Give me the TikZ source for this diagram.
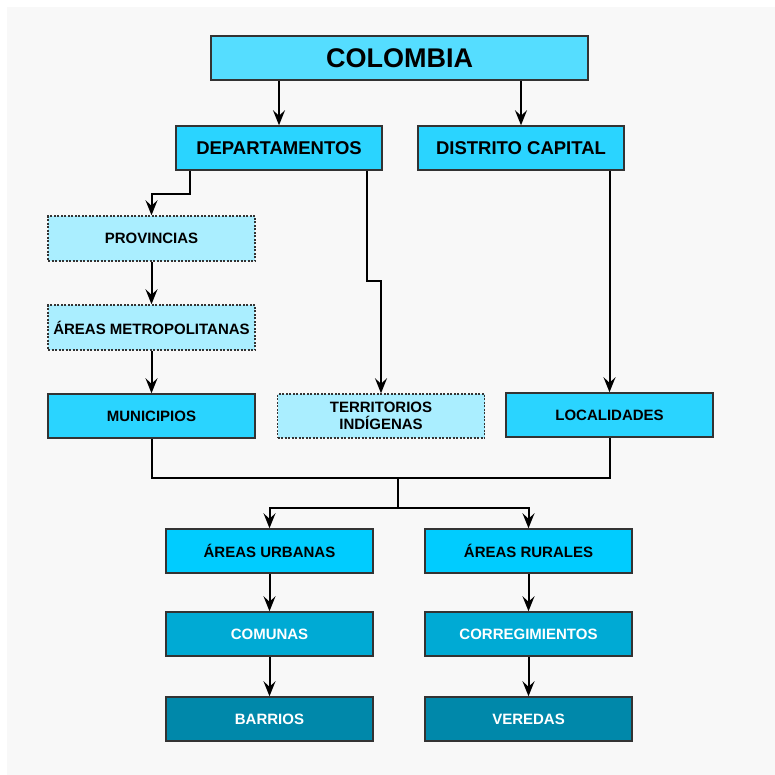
\documentclass[tikz,border=0pt]{standalone}
\usepackage{fontspec}
\setmainfont{Liberation Sans}
\usepackage{xcolor}
\usepackage{tikz}
\usetikzlibrary{arrows.meta,positioning}

\definecolor{cieloA}{HTML}{55DDFF}
\definecolor{cieloB}{HTML}{2AD4FF}
\definecolor{cieloC}{HTML}{00CCFF}
\definecolor{pastel}{HTML}{AAEEFF}
\definecolor{medio}{HTML}{00AAD4}
\definecolor{oscuro}{HTML}{0088AA}
\definecolor{fondo}{HTML}{F8F8F8}
\definecolor{borde}{HTML}{333333}

\begin{document}
\begin{tikzpicture}[
  x=1pt, y=1pt,
  node distance=42.5pt,
  box/.style={rectangle, draw=borde, line width=1.5pt,
              minimum width=207pt, minimum height=44pt,
              inner sep=0pt, font=\bfseries\fontsize{15}{17}\selectfont,
              align=center},
  soft/.style={box, fill=pastel, dash pattern=on 2pt off 1.5pt},
  arr/.style={-{Stealth[length=15pt, width=12pt, inset=5.5pt]}, line width=2pt},
  link/.style={line width=2pt}
]
\useasboundingbox (0,0) rectangle (775,-774);
\fill[fondo] (7,-7) rectangle (790,-790);

% nivel nacional
\node[box, fill=cieloA, minimum width=377pt,
      font=\bfseries\fontsize{27}{30}\selectfont] (col) at (399.5,-58) {COLOMBIA};
\node[box, fill=cieloB, minimum width=206pt,
      font=\bfseries\fontsize{18.5}{21}\selectfont] (dep) at (279,-148) {DEPARTAMENTOS};
\node[box, fill=cieloB, minimum width=206pt,
      font=\bfseries\fontsize{18.5}{21}\selectfont] (dc)  at (521,-148) {DISTRITO CAPITAL};

% nivel departamental
\node[soft, minimum height=45pt] (prov) at (151.5,-238.5) {PROVINCIAS};
\node[soft, minimum height=45pt, below=of prov] (metro) {ÁREAS METROPOLITANAS};
\node[box, fill=cieloB, below=of metro] (muni) {MUNICIPIOS};
\node[soft] (terr) at (381,-416) {TERRITORIOS\\INDÍGENAS};
\node[box, fill=cieloB] (loc) at (609.5,-415) {LOCALIDADES};

% nivel local
\node[box, fill=cieloC] (urb) at (269.5,-551) {ÁREAS URBANAS};
\node[box, fill=cieloC] (rur) at (528.5,-551) {ÁREAS RURALES};
\node[box, fill=medio, text=white, below=37.5pt of urb] (com) {COMUNAS};
\node[box, fill=medio, text=white, below=37.5pt of rur] (corr) {CORREGIMIENTOS};
\node[box, fill=oscuro, text=white, below=39.5pt of com] (barr) {BARRIOS};
\node[box, fill=oscuro, text=white, below=39.5pt of corr] (ver) {VEREDAS};

\draw[arr] (dep.north|-col.south) -- (dep.north);
\draw[arr] (dc.north|-col.south) -- (dc.north);
\draw[arr] ([xshift=15pt]dep.south west) -- ++(0,-23) -| (prov.north);
\draw[arr] ([xshift=-16pt]dep.south east) -- ++(0,-110) -| (terr.north);
\draw[arr] (loc.north|-dc.south) -- (loc.north);
\draw[arr] (prov) -- (metro);
\draw[arr] (metro) -- (muni);

\draw[link] (muni.south) -- ++(0,-39) -| (loc.south);
\coordinate (union) at (398,-477);
\draw[link] (union) -- ++(0,-31) coordinate (reparto);
\draw[arr] (reparto) -| (urb.north);
\draw[arr] (reparto) -| (rur.north);

\draw[arr] (urb) -- (com);
\draw[arr] (com) -- (barr);
\draw[arr] (rur) -- (corr);
\draw[arr] (corr) -- (ver);

\end{tikzpicture}
\end{document}
